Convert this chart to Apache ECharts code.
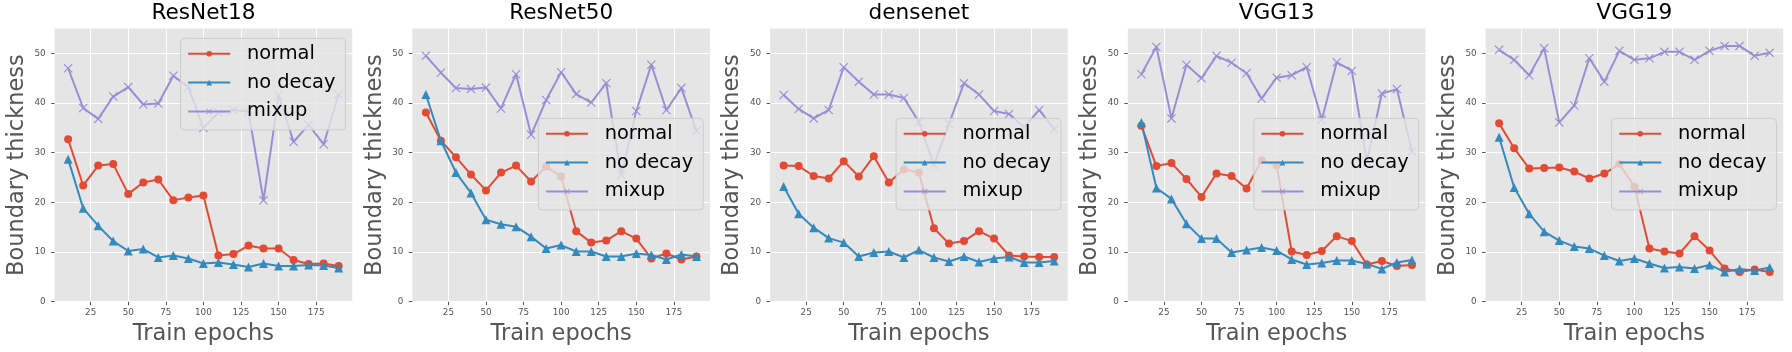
<!DOCTYPE html>
<html>
<head>
<meta charset="utf-8">
<script src="https://cdn.jsdelivr.net/npm/echarts@6.0.0/dist/echarts.min.js"></script>
<style>
  html, body { margin: 0; padding: 0; background: #fff; }
  #main { width: 1792px; height: 352px; }
</style>
</head>
<body>
<div id="main"></div>
<script>
// data
const epochs = [10, 20, 30, 40, 50, 60, 70, 80, 90, 100, 110, 120, 130, 140, 150, 160, 170, 180, 190];
const xTicks = [25, 50, 75, 100, 125, 150, 175];
const yTicks = [0, 10, 20, 30, 40, 50];
const models = ['ResNet18', 'ResNet50', 'densenet', 'VGG13', 'VGG19'];
const seriesNames = ['normal', 'no decay', 'mixup'];

const resnet18Normal = [32.7, 23.4, 27.4, 27.7, 21.7, 24.0, 24.6, 20.4, 21.0, 21.4, 9.3, 9.6, 11.3, 10.7, 10.7, 8.4, 7.6, 7.7, 7.2];
const resnet18NoDecay = [28.7, 18.8, 15.3, 12.2, 10.2, 10.6, 8.9, 9.3, 8.7, 7.7, 7.9, 7.5, 7.0, 7.7, 7.2, 7.2, 7.4, 7.3, 6.8];
const resnet18Mixup = [47.0, 39.0, 36.8, 41.3, 43.2, 39.7, 39.9, 45.5, 43.2, 35.0, 38.1, 38.6, 38.3, 20.4, 41.5, 32.2, 35.6, 31.7, 41.7];

const resnet50Normal = [38.1, 32.4, 29.1, 25.6, 22.4, 26.0, 27.4, 24.2, 27.2, 25.2, 14.2, 11.9, 12.3, 14.2, 12.7, 8.7, 9.7, 8.5, 9.1];
const resnet50NoDecay = [41.7, 32.4, 26.0, 21.9, 16.5, 15.6, 15.1, 13.1, 10.7, 11.4, 10.1, 10.1, 9.1, 9.1, 9.7, 9.4, 8.5, 9.5, 9.1];
const resnet50Mixup = [49.5, 46.1, 43.0, 42.8, 43.1, 38.9, 45.8, 33.6, 40.6, 46.2, 41.8, 40.1, 44.0, 25.5, 38.4, 47.7, 38.6, 43.0, 34.4];

const densenetNormal = [27.4, 27.3, 25.3, 24.8, 28.3, 25.2, 29.3, 24.0, 26.6, 26.0, 14.8, 11.7, 12.2, 14.2, 12.7, 9.3, 9.1, 9.0, 9.0];
const densenetNoDecay = [23.2, 17.7, 14.9, 12.8, 11.9, 9.1, 9.9, 10.1, 8.9, 10.4, 8.9, 8.1, 9.1, 8.0, 8.7, 9.0, 7.9, 7.9, 8.2];
const densenetMixup = [41.6, 38.8, 36.9, 38.6, 47.2, 44.3, 41.7, 41.7, 41.0, 36.2, 27.5, 35.8, 44.0, 41.7, 38.4, 37.8, 35.1, 38.6, 34.7];

const vgg13Normal = [35.4, 27.3, 27.9, 24.7, 21.1, 25.8, 25.3, 22.8, 28.5, 27.4, 10.1, 9.4, 10.2, 13.2, 12.2, 7.5, 8.2, 7.2, 7.4];
const vgg13NoDecay = [36.1, 22.9, 20.7, 15.7, 12.7, 12.7, 9.9, 10.4, 10.9, 10.3, 8.5, 7.5, 7.8, 8.3, 8.3, 7.6, 6.6, 7.9, 8.4];
const vgg13Mixup = [45.8, 51.3, 36.9, 47.7, 45.0, 49.5, 48.1, 46.0, 40.9, 45.1, 45.6, 47.2, 36.6, 48.2, 46.5, 28.2, 41.9, 42.8, 30.3];

const vgg19Normal = [35.9, 30.9, 26.8, 26.9, 27.0, 26.2, 24.8, 25.8, 27.7, 23.2, 10.7, 10.1, 9.7, 13.2, 10.3, 6.7, 6.0, 6.5, 6.0];
const vgg19NoDecay = [33.1, 23.0, 17.7, 14.1, 12.3, 11.1, 10.7, 9.3, 8.2, 8.7, 7.7, 6.8, 7.0, 6.7, 7.4, 6.0, 6.6, 6.3, 6.9];
const vgg19Mixup = [50.7, 48.7, 45.6, 51.0, 36.1, 39.5, 49.0, 44.3, 50.5, 48.7, 49.0, 50.3, 50.3, 48.7, 50.5, 51.5, 51.5, 49.5, 50.1];

const panelData = [
    [resnet18Normal, resnet18NoDecay, resnet18Mixup],
    [resnet50Normal, resnet50NoDecay, resnet50Mixup],
    [densenetNormal, densenetNoDecay, densenetMixup],
    [vgg13Normal, vgg13NoDecay, vgg13Mixup],
    [vgg19Normal, vgg19NoDecay, vgg19Mixup],
];

const colors = ['#E24A33', '#348ABD', '#988ED5'];
const crossPath = 'path://M0,0.9L0.9,0L5,4.1L9.1,0L10,0.9L5.9,5L10,9.1L9.1,10L5,5.9L0.9,10L0,9.1L4.1,5Z';
const symbols = ['circle', 'triangle', crossPath];
const symbolSizes = [8, 9, 9];
const font = 'DejaVu Sans';

// panel layout (px)
const gridTop = 28.5;
const gridHeight = 273.2;
const gridWidth = 297.6;
const firstLeft = 54.6;
const step = 357.75;

const buildOption = () => {
    let grids = [], xAxes = [], yAxes = [], titles = [], legends = [], series = [];

    for (let i = 0; i < models.length; i++) {
        let left = firstLeft + step * i;
        grids.push({
            left: left, top: gridTop, width: gridWidth, height: gridHeight,
            show: true, backgroundColor: '#E5E5E5', borderWidth: 0
        });
        titles.push({
            text: models[i],
            left: left + gridWidth / 2,
            textAlign: 'center',
            top: 2,
            padding: 0,
            textStyle: { fontFamily: font, fontSize: 21.6, fontWeight: 'normal', color: '#000' }
        });
        xAxes.push({
            gridIndex: i, type: 'value', min: 1, max: 199,
            name: 'Train epochs', nameLocation: 'middle', nameGap: 20,
            nameTextStyle: { fontFamily: font, fontSize: 22.5, color: '#555' },
            axisLine: { show: false },
            axisTick: { show: true, length: 3.5, customValues: xTicks, lineStyle: { color: '#555' } },
            axisLabel: { customValues: xTicks, fontFamily: font, fontSize: 8.8, color: '#555', margin: 7 },
            splitLine: { show: true, lineStyle: { color: '#fff', width: 1 } }
        });
        yAxes.push({
            gridIndex: i, type: 'value', min: 0, max: 55,
            name: 'Boundary thickness', nameLocation: 'middle', nameGap: 26,
            nameTextStyle: { fontFamily: font, fontSize: 22.5, color: '#555' },
            axisLine: { show: false },
            axisTick: { show: true, length: 3.5, customValues: yTicks, lineStyle: { color: '#555' } },
            axisLabel: { customValues: yTicks, fontFamily: font, fontSize: 8.8, color: '#555', margin: 9 },
            splitLine: { show: true, lineStyle: { color: '#fff', width: 1 } }
        });
        legends.push({
            data: seriesNames,
            orient: 'vertical',
            left: left + 126,
            top: i == 0 ? 38.3 : 118.3,
            itemWidth: 42,
            itemHeight: 7,
            itemGap: 8.8,
            padding: [5.5, 10, 8.5, 6.6],
            backgroundColor: 'rgba(229,229,229,0.8)',
            borderColor: '#CCCCCC',
            borderWidth: 1,
            borderRadius: 4,
            selectedMode: false,
            textStyle: { fontFamily: font, fontSize: 19.4, color: '#000', lineHeight: 20, padding: [0, 0, 0, 11.7] }
        });
        for (let j = 0; j < seriesNames.length; j++) {
            series.push({
                type: 'line',
                name: seriesNames[j],
                xAxisIndex: i,
                yAxisIndex: i,
                data: epochs.map((e, k) => [e, panelData[i][j][k]]),
                symbol: symbols[j],
                symbolSize: symbolSizes[j],
                showAllSymbol: true,
                color: colors[j],
                lineStyle: { width: 2, color: colors[j] },
                itemStyle: { color: colors[j] },
                animation: false
            });
        }
    }

    return {
        animation: false,
        title: titles,
        grid: grids,
        xAxis: xAxes,
        yAxis: yAxes,
        legend: legends,
        series: series
    };
};

const chart = echarts.init(document.getElementById('main'), null, { renderer: 'canvas' });
chart.setOption(buildOption());
</script>
</body>
</html>
